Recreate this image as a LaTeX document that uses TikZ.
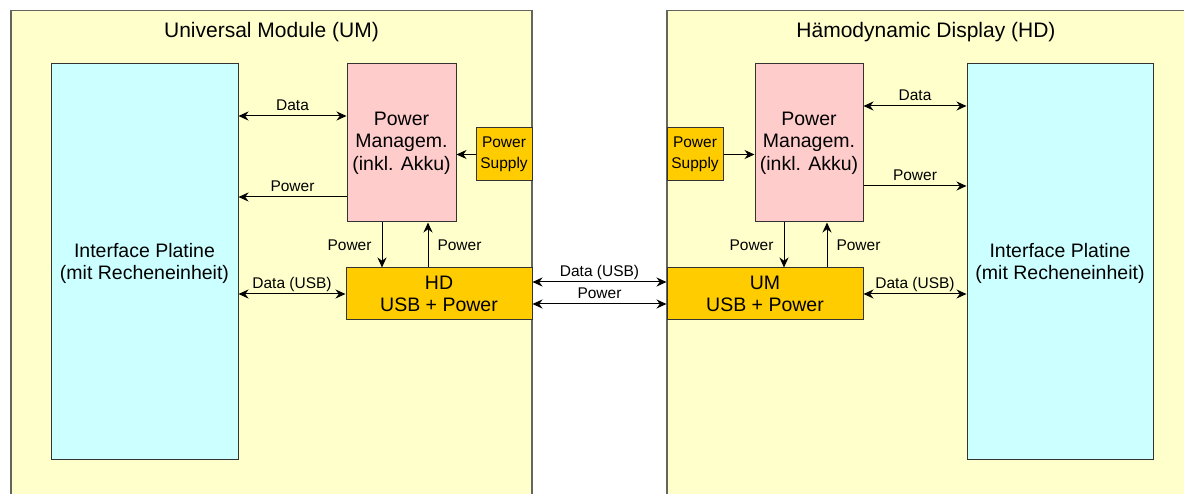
\documentclass[tikz,border=0pt]{standalone}
\usepackage{fontspec}
\setmainfont{Liberation Sans}
\usetikzlibrary{arrows.meta}
\definecolor{modfill}{HTML}{FFFFCC}
\definecolor{modline}{HTML}{62665C}
\definecolor{ifcfill}{HTML}{CCFFFF}
\definecolor{pmfill}{HTML}{FFCCCC}
\definecolor{usbfill}{HTML}{FFCC00}

\begin{document}
\begin{tikzpicture}[x=1pt, y=-1pt, every node/.style={align=center},
  module/.style={draw=modline, line width=1.5pt, fill=modfill},
  box/.style={draw=black!80, line width=1pt, inner sep=0pt, font=\fontsize{19.5}{22.5}\selectfont},
  psbox/.style={box, fill=usbfill, minimum width=56pt, minimum height=53pt, font=\fontsize{15.5}{20.5}\selectfont},
  lbl/.style={font=\fontsize{15.5}{18}\selectfont, inner sep=0pt, text depth=0pt},
  conn/.style={line width=1pt, -{Stealth[length=10pt,width=9pt]}},
  bidir/.style={line width=1pt, {Stealth[length=10pt,width=9pt]}-{Stealth[length=10pt,width=9pt]}}]
  \useasboundingbox (0,0) rectangle (1184,494);
  \clip (0,0) rectangle (1184,494);
  \fill[white] (0,0) rectangle (1184,494);
  \draw[module] (11,10.5) rectangle (532,520);
  \draw[module] (667,10.5) rectangle (1200,520);

  \node[font=\fontsize{21}{25}\selectfont] (umTitle) at (271.5,32) {Universal Module (UM)};
  \node[font=\fontsize{21}{25}\selectfont] (hdTitle) at (926,32) {Hämodynamic Display (HD)};

  \node[box, fill=ifcfill, minimum width=187pt, minimum height=395pt] (umIf) at (144.5,261.5) {\\[-4pt]Interface Platine\\(mit Recheneinheit)};
  \node[box, fill=pmfill, minimum width=109pt, minimum height=158pt] (umPM) at (401.5,143) {Power\\Managem.\\(inkl. Akku)};
  \node[psbox] (umPS) at (504,154.5) {Power\\Supply};
  \node[box, fill=usbfill, minimum width=186pt, minimum height=52pt] (umUSB) at (439,294) {HD\\USB + Power};

  \node[psbox] (hdPS) at (695,154.5) {Power\\Supply};
  \node[box, fill=pmfill, minimum width=108pt, minimum height=158pt] (hdPM) at (809,143) {Power\\Managem.\\(inkl. Akku)};
  \node[box, fill=usbfill, minimum width=196pt, minimum height=52pt] (hdUSB) at (765,294) {UM\\USB + Power};
  \node[box, fill=ifcfill, minimum width=186pt, minimum height=395pt] (hdIf) at (1060,261.5) {\\[-4pt]Interface Platine\\(mit Recheneinheit)};

  \draw[bidir] ([yshift=27pt]umPM.west) coordinate (umData) -- (umData -| umIf.east) node[lbl, midway, above=5pt] {Data};
  \draw[conn] ([yshift=-54pt]umPM.west) coordinate (umPow) -- (umPow -| umIf.east) node[lbl, midway, above=5pt] {Power};
  \draw[bidir] (umUSB.west) -- (umUSB.west -| umIf.east) node[lbl, midway, above=5pt] {Data (USB)};
  \draw[conn] (umPS.west) -- (umPS.west -| umPM.east);
  \draw[conn] ([xshift=-19.5pt]umPM.south) coordinate (umDown) -- (umDown |- umUSB.north) node[lbl, midway, left=10pt] {Power};
  \coordinate (umUp) at ([xshift=26.5pt]umPM.south);
  \draw[conn] (umUp |- umUSB.north) -- (umUp) node[lbl, midway, right=9pt] {Power};

  \draw[bidir] ([yshift=12pt]umUSB.east) coordinate (midData) -- (midData -| hdUSB.west) node[lbl, midway, above=5pt] {Data (USB)};
  \draw[bidir] ([yshift=-10pt]umUSB.east) coordinate (midPow) -- (midPow -| hdUSB.west) node[lbl, midway, above=5pt] {Power};

  \draw[bidir] ([yshift=37pt]hdPM.east) coordinate (hdData) -- (hdData -| hdIf.west) node[lbl, midway, above=5pt] {Data};
  \draw[conn] ([yshift=-43pt]hdPM.east) coordinate (hdPow) -- (hdPow -| hdIf.west) node[lbl, midway, above=5pt] {Power};
  \draw[bidir] (hdUSB.east) -- (hdUSB.east -| hdIf.west) node[lbl, midway, above=5pt] {Data (USB)};
  \draw[conn] (hdPS.east) -- (hdPS.east -| hdPM.west);
  \draw[conn] ([xshift=-25pt]hdPM.south) coordinate (hdDown) -- (hdDown |- hdUSB.north) node[lbl, midway, left=10pt] {Power};
  \coordinate (hdUp) at ([xshift=18pt]hdPM.south);
  \draw[conn] (hdUp |- hdUSB.north) -- (hdUp) node[lbl, midway, right=9pt] {Power};
\end{tikzpicture}
\end{document}
